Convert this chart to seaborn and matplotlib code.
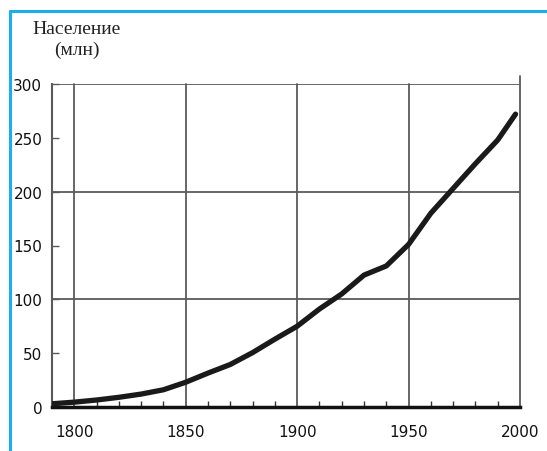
import matplotlib
matplotlib.use("Agg")
import matplotlib.pyplot as plt
from matplotlib.lines import Line2D
import seaborn as sns
import pandas as pd

years = [1790, 1800, 1810, 1820, 1830, 1840, 1850, 1860, 1870, 1880, 1890,
         1900, 1910, 1920, 1930, 1940, 1950, 1960, 1970, 1980, 1990, 1998]
population = [3.0, 4.5, 6.5, 9.0, 12.0, 16.0, 23.0, 31.5, 39.5, 50.5, 63.0,
              75.0, 91.0, 105.0, 122.5, 131.0, 151.0, 180.0, 203.0, 226.0, 248.0, 272.0]
xticks = [1800, 1850, 1900, 1950, 2000]
yticks = [0, 50, 100, 150, 200, 250, 300]
ygrid = [100, 200, 300]
title = "Население\n(млн)"

df = pd.DataFrame({"year": years, "pop": population})

sns.set_style("white")
plt.rcParams['font.family'] = ['DejaVu Sans']

fig = plt.figure(figsize=(5.47, 4.52), dpi=100)
ax = fig.add_axes([52/547, 1 - 408/452, (520-52)/547, (408-85)/452])

grid_color = "#5a5a5a"
for v in ygrid:
    ax.axhline(v, color=grid_color, lw=1.3, zorder=1)
for v in xticks:
    top = 1.025 if v == xticks[-1] else 1.0
    ax.axvline(v, ymax=top, color=grid_color, lw=1.3, zorder=1, clip_on=False)

sns.lineplot(data=df, x="year", y="pop", ax=ax, color="#1a1a1a", lw=3.8,
             zorder=3, solid_capstyle="round")

ax.set_xlim(1790, 2000)
ax.set_ylim(0, 300)
ax.set_xticks(xticks)
ax.set_xticks(list(range(1790, 2000, 10)), minor=True)
ax.set_yticks(yticks)
ax.set_xlabel("")
ax.set_ylabel("")

for s in ["top", "right"]:
    ax.spines[s].set_visible(False)
ax.spines["left"].set_color(grid_color)
ax.spines["left"].set_linewidth(1.5)
ax.spines["bottom"].set_color("#111111")
ax.spines["bottom"].set_linewidth(2.5)

ax.tick_params(axis="x", which="major", direction="in", length=0, pad=12,
               labelsize=11, labelcolor="#111111")
ax.tick_params(axis="x", which="minor", direction="in", length=4, width=1,
               color="#333333", bottom=True)
ax.tick_params(axis="y", which="major", direction="in", length=5, width=1,
               color=grid_color, pad=7, labelsize=11, labelcolor="#111111",
               left=True)

fig.text(77/547, 1 - 40/452, title, family=["Liberation Serif", "DejaVu Serif"],
         fontsize=14, ha="center", va="center", multialignment="center",
         linespacing=1.25, color="#222222")

blue = "#1aaeea"
fig.add_artist(Line2D([9.5/547, 9.5/547], [0, 1 - 12/452], color=blue, lw=2.2,
                      transform=fig.transFigure))
fig.add_artist(Line2D([9.5/547, 1], [1 - 12/452, 1 - 12/452], color=blue, lw=2.2,
                      transform=fig.transFigure))

fig.savefig("out.png", dpi=100)
